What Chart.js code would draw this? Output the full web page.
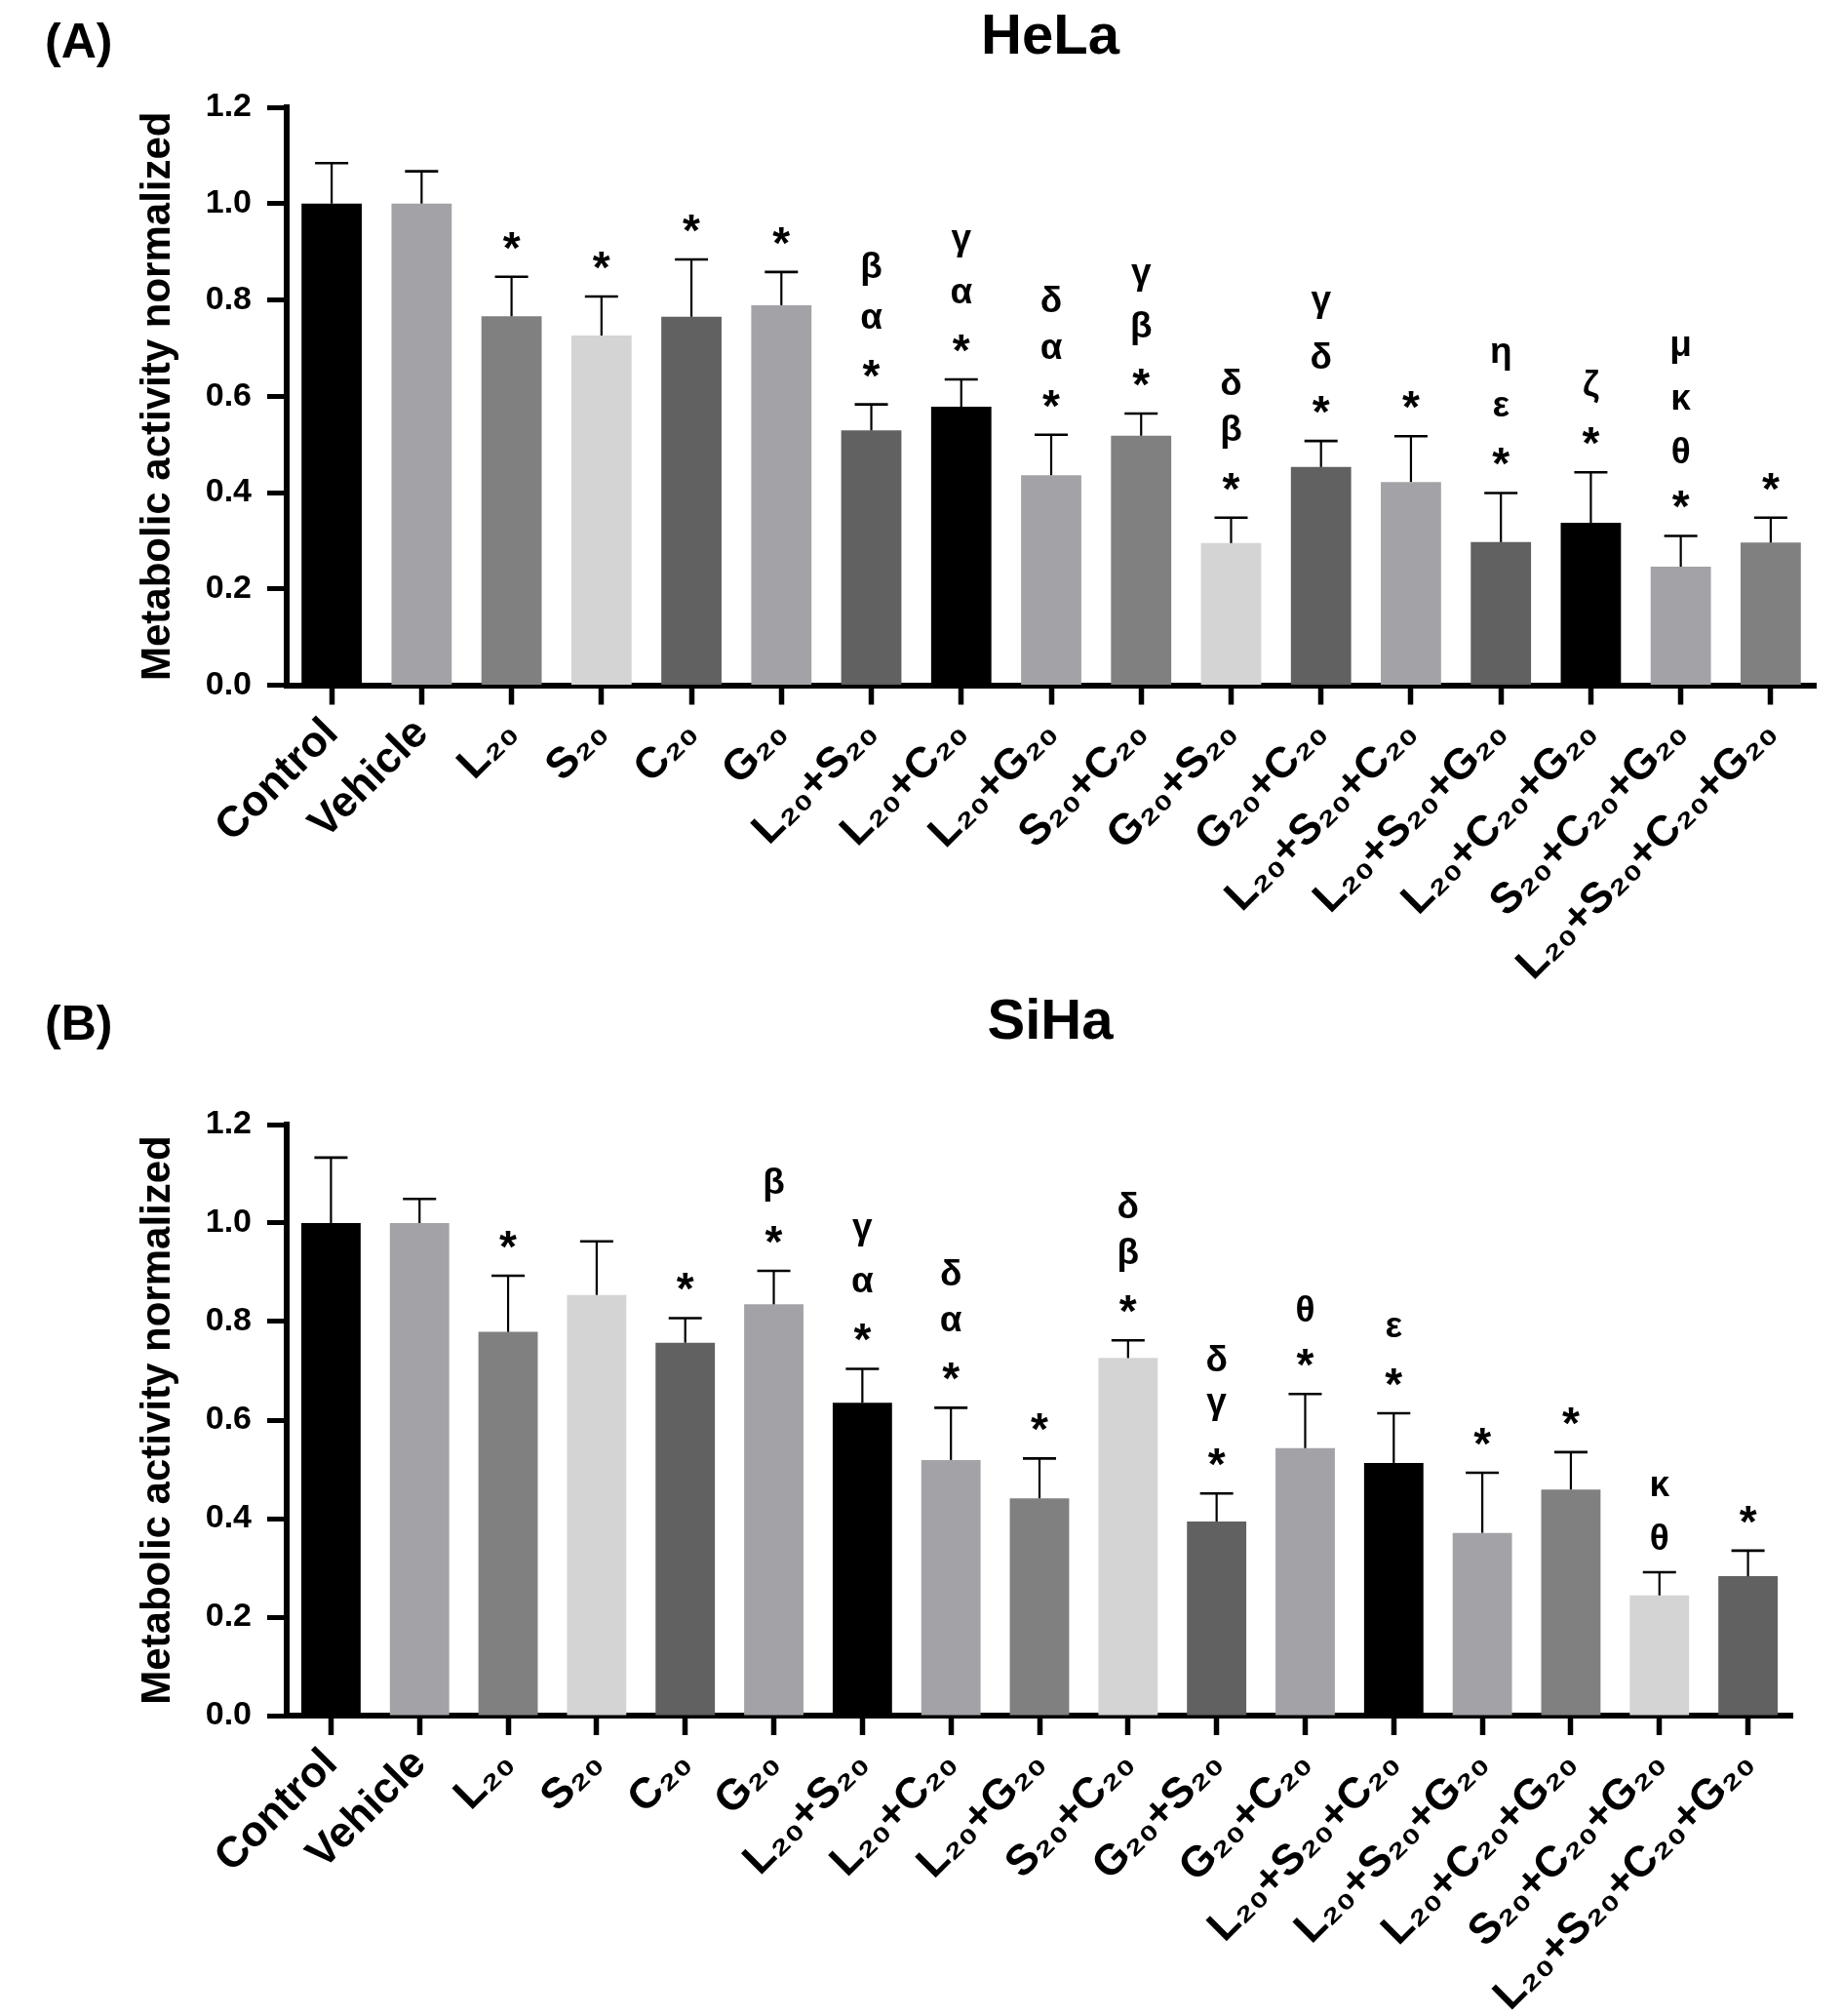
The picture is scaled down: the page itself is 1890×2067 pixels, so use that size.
<!DOCTYPE html>
<html lang="en">
<head>
    <meta charset="UTF-8">
    <title>HeLa / SiHa metabolic activity</title>
    <script src="https://cdn.jsdelivr.net/npm/chart.js@4.4.1/dist/chart.umd.min.js"></script>
    <style>
        body { margin: 0; background: #fff; font-family: "Liberation Sans", Arial, sans-serif; }
        .page { position: relative; width: 1890px; height: 2067px; }
        .panel { position: absolute; left: 0; width: 1890px; }
        .tag, .ttl { position: absolute; font-weight: bold; line-height: 1; color: #000; white-space: nowrap; }
        .tag { font-size: 50px; }
        .ttl { font-size: 58px; transform: translateX(-50%); }
    </style>
</head>
<body>
<div class="page">
    <!-- panel A -->
    <div class="tag" style="left:46px; top:17px;">(A)</div>
    <div class="ttl" style="left:1077px; top:6px;">HeLa</div>
    <div class="panel" style="top:0; height:1030px;"><canvas id="helaChart"></canvas></div>

    <!-- panel B -->
    <div class="tag" style="left:46px; top:1024px;">(B)</div>
    <div class="ttl" style="left:1077px; top:1016px;">SiHa</div>
    <div class="panel" style="top:1030px; height:1037px;"><canvas id="sihaChart"></canvas></div>
</div>

<script>
// groups on the x axis
const categories = ['Control', 'Vehicle', 'L₂₀', 'S₂₀', 'C₂₀', 'G₂₀',
    'L₂₀+S₂₀', 'L₂₀+C₂₀', 'L₂₀+G₂₀', 'S₂₀+C₂₀', 'G₂₀+S₂₀', 'G₂₀+C₂₀',
    'L₂₀+S₂₀+C₂₀', 'L₂₀+S₂₀+G₂₀', 'L₂₀+C₂₀+G₂₀', 'S₂₀+C₂₀+G₂₀', 'L₂₀+S₂₀+C₂₀+G₂₀'];
const yTicks = [0, 0.2, 0.4, 0.6, 0.8, 1.0, 1.2];

// HeLa
const helaMean = [1.0, 1.0, 0.766, 0.726, 0.765, 0.789, 0.529, 0.578, 0.436, 0.518, 0.295, 0.453, 0.422, 0.297, 0.337, 0.246, 0.296];
const helaSD   = [0.084, 0.067, 0.082, 0.081, 0.119, 0.069, 0.054, 0.057, 0.084, 0.046, 0.053, 0.054, 0.095, 0.102, 0.105, 0.064, 0.052];
// significance marks, listed bottom to top
const helaMarks = [[], [], ['*'], ['*'], ['*'], ['*'],
    ['*', 'α', 'β'], ['*', 'α', 'γ'], ['*', 'α', 'δ'], ['*', 'β', 'γ'], ['*', 'β', 'δ'], ['*', 'δ', 'γ'],
    ['*'], ['*', 'ε', 'η'], ['*', 'ζ'], ['*', 'θ', 'κ', 'μ'], ['*']];
const helaColors = ['#000000', '#a3a2a7', '#808080', '#d4d4d4', '#616161', '#a3a2a7', '#616161', '#000000', '#a3a2a7',
    '#808080', '#d4d4d4', '#616161', '#a3a2a7', '#616161', '#000000', '#a3a2a7', '#808080'];

// SiHa
const sihaMean = [1.0, 1.0, 0.779, 0.854, 0.757, 0.835, 0.635, 0.519, 0.441, 0.726, 0.394, 0.543, 0.513, 0.371, 0.459, 0.244, 0.283];
const sihaSD   = [0.133, 0.049, 0.114, 0.109, 0.050, 0.068, 0.069, 0.106, 0.081, 0.036, 0.057, 0.110, 0.101, 0.122, 0.076, 0.047, 0.052];
const sihaMarks = [[], [], ['*'], [], ['*'], ['*', 'β'],
    ['*', 'α', 'γ'], ['*', 'α', 'δ'], ['*'], ['*', 'β', 'δ'], ['*', 'γ', 'δ'], ['*', 'θ'],
    ['*', 'ε'], ['*'], ['*'], ['θ', 'κ'], ['*']];
const sihaColors = ['#000000', '#a3a2a7', '#808080', '#d4d4d4', '#616161', '#a3a2a7', '#000000', '#a3a2a7', '#808080',
    '#d4d4d4', '#616161', '#a3a2a7', '#000000', '#a3a2a7', '#808080', '#d4d4d4', '#616161'];

const FONT = '"Liberation Sans", Arial, "DejaVu Sans", sans-serif';

// upper error whiskers + stacked significance symbols
const errorMarks = {
    id: 'errorMarks',
    afterDatasetsDraw(chart, args, opts) {
        const ctx = chart.ctx;
        const yScale = chart.scales.y;
        const bars = chart.getDatasetMeta(0).data;
        ctx.save();
        ctx.strokeStyle = '#000';
        ctx.fillStyle = '#000';
        bars.forEach((bar, i) => {
            const yTop = yScale.getPixelForValue(opts.mean[i] + opts.sd[i]);
            ctx.lineWidth = 2.2;
            ctx.beginPath();
            ctx.moveTo(bar.x, bar.y);
            ctx.lineTo(bar.x, yTop);
            ctx.stroke();
            ctx.lineWidth = 2.6;
            ctx.beginPath();
            ctx.moveTo(bar.x - 17, yTop);
            ctx.lineTo(bar.x + 17, yTop);
            ctx.stroke();

            ctx.textAlign = 'center';
            ctx.textBaseline = 'alphabetic';
            opts.marks[i].forEach((s, k) => {
                // the asterisk glyph is small in this font, so it gets a bigger size
                ctx.font = (s === '*' ? 'bold 46px ' : 'bold 37px ') + FONT;
                const m = ctx.measureText(s);
                const cy = yTop - 37 - k * 51;
                const base = cy + (m.actualBoundingBoxAscent - m.actualBoundingBoxDescent) / 2;
                ctx.fillText(s, bar.x, base);
            });
        });
        ctx.restore();
    }
};

function makeChart(id, mean, sd, marks, colors, pad, xHeight) {
    return new Chart(document.getElementById(id), {
        type: 'bar',
        data: {
            labels: categories,
            datasets: [{
                data: mean,
                backgroundColor: colors,
                borderWidth: 0,
                barPercentage: 0.67,
                categoryPercentage: 1.0
            }]
        },
        options: {
            responsive: true,
            maintainAspectRatio: false,
            devicePixelRatio: 1,
            animation: false,
            layout: { padding: pad },
            plugins: {
                legend: { display: false },
                tooltip: { enabled: false },
                errorMarks: { mean: mean, sd: sd, marks: marks }
            },
            scales: {
                x: {
                    afterFit(s) { s.height = xHeight; },
                    ticks: {
                        autoSkip: false,
                        minRotation: 45,
                        maxRotation: 45,
                        padding: 4,
                        color: '#000',
                        font: { family: FONT, size: 44, weight: 'bold' }
                    },
                    grid: {
                        offset: false,
                        drawOnChartArea: false,
                        drawTicks: true,
                        tickLength: 20,
                        tickWidth: 5.5,
                        tickColor: '#000'
                    },
                    border: { display: true, color: '#000', width: 6 }
                },
                y: {
                    min: 0,
                    max: 1.2,
                    afterFit(s) { s.width = 157; },
                    afterBuildTicks(s) { s.ticks = yTicks.map(v => ({ value: v })); },
                    ticks: {
                        padding: 16,
                        color: '#000',
                        font: { family: FONT, size: 34, weight: 'bold' },
                        callback: v => Number(v).toFixed(1)
                    },
                    grid: {
                        drawOnChartArea: false,
                        drawTicks: true,
                        tickLength: 20,
                        tickWidth: 5,
                        tickColor: '#000'
                    },
                    border: { display: true, color: '#000', width: 6 },
                    title: {
                        display: true,
                        text: 'Metabolic activity normalized',
                        color: '#000',
                        padding: { top: 0, bottom: 0 },
                        font: { family: FONT, size: 42, weight: 'bold' }
                    }
                }
            }
        },
        plugins: [errorMarks]
    });
}

makeChart('helaChart', helaMean, helaSD, helaMarks, helaColors,
    { top: 110, left: 137, right: 28, bottom: 0 }, 327.5);
makeChart('sihaChart', sihaMean, sihaSD, sihaMarks, sihaColors,
    { top: 123, left: 137, right: 52, bottom: 0 }, 308);
</script>
</body>
</html>
